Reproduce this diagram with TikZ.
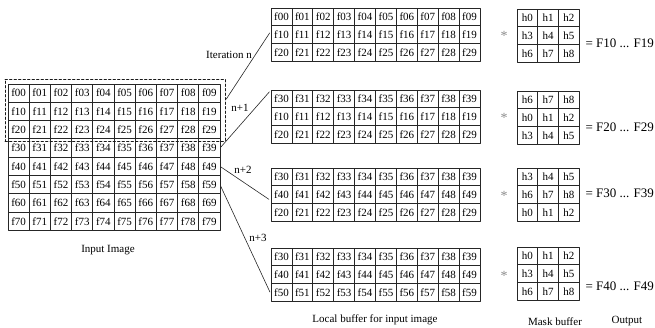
\documentclass[tikz,border=0pt]{standalone}
\usepackage{fontspec}
\setmainfont{Liberation Serif}
\begin{document}
\begin{tikzpicture}[x=1pt, y=-1pt, font=\fontsize{11}{13}\selectfont, line join=round, line cap=round,
		cell/.style={draw=black!85, line width=0.8pt, inner sep=0pt, outer sep=0pt},
		incell/.style={cell, minimum width=21.2pt, minimum height=18.3pt},
		bufcell/.style={cell, minimum width=20.9pt, minimum height=17.8pt},
		maskcell/.style={cell, minimum width=20.7pt, minimum height=17.7pt},
		link/.style={draw=black!85, line width=0.6pt, shorten <=1.5pt, shorten >=2.5pt}]
			\useasboundingbox (0,0) rectangle (655,328);
			\foreach \r in {0,...,7}
				\foreach \c in {0,...,9}
					\node[incell] (in-\r-\c) at ({18.6+21.2*\c},{93.15+18.3*\r}) {f\r\c};
			\node[draw=black!90, line width=0.9pt, dash pattern=on 2.5pt off 2pt, minimum width=220pt, minimum height=62pt, inner sep=0pt] (win) at (115,110) {};
			\foreach \k/\y/\ra/\rb/\rc in {1/8/0/1/2, 2/90/3/1/2, 3/168/3/4/2, 4/248/3/4/5}
				\foreach \i/\r in {0/\ra, 1/\rb, 2/\rc}
					\foreach \c in {0,...,9}
						\node[bufcell] (b\k-\i-\c) at ({281.45+20.9*\c},{\y+8.9+17.8*\i}) {f\r\c};
			\foreach \k/\y/\ma/\mb/\mc in {1/9/0/1/2, 2/91/2/0/1, 3/168/1/2/0, 4/247/0/1/2}
				\foreach \i/\r in {0/\ma, 1/\mb, 2/\mc}
					\foreach \c in {0,1,2}{
						\pgfmathtruncatemacro\h{3*\r+\c}
						\node[maskcell] (m\k-\i-\c) at ({527.35+20.7*\c},{\y+8.85+17.7*\i}) {h\h};
					}
			\foreach \k/\y/\oy in {1/8/43, 2/90/127, 3/168/193, 4/248/286}{
				\node[text=black!45, font=\fontsize{14}{16}\selectfont] (star\k) at (504,\y+28) {*};
				\node[anchor=west, font=\fontsize{13}{15}\selectfont] (out\k) at (582,\oy) {= F\k0 ... F\k9};
			}
			\draw[link] (win.5) -- (b1-1-0.160);
			\draw[link] (in-3-9.east) -- (b2-0-0.north west);
			\draw[link] (in-4-9.east) -- (b3-1-0.210);
			\draw[link] (in-5-9.east) -- (b4-2-0.190);
			\node (itn) at (229,55) {Iteration n};
			\node (itn1) at (240,108) {n+1};
			\node (itn2) at (243,170) {n+2};
			\node (itn3) at (258,238) {n+3};
			\node (inlbl) at (108,250) {Input Image};
			\node (buflbl) at (375,320) {Local buffer for input image};
			\node (masklbl) at (555,322) {Mask buffer};
			\node (outlbl) at (627,321) {Output};
		\end{tikzpicture}
\end{document}
